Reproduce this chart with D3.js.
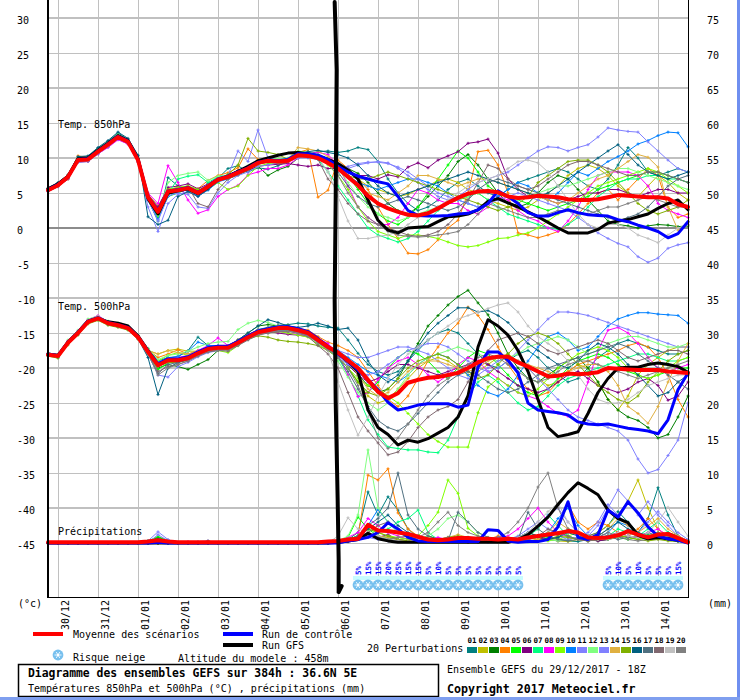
<!DOCTYPE html>
<html><head><meta charset="utf-8">
<script src="https://cdn.jsdelivr.net/npm/d3@7"></script>
<style>
body{margin:0;background:#fff;}
svg{display:block;}
</style></head><body>
<svg id="c" width="740" height="700"></svg>
<script>
// ---------- DATA ----------
const hours = d3.range(0, 385, 6); // 65 steps, 29/12/2017 18Z + h
const dateLabels = ["30/12","31/12","01/01","02/01","03/01","04/01","05/01","06/01","07/01","08/01","09/01","10/01","11/01","12/01","13/01","14/01"];
const dateHours = [6,30,54,78,102,126,150,174,198,222,246,270,294,318,342,366];
const leftTicks = [30,25,20,15,10,5,0,-5,-10,-15,-20,-25,-30,-35,-40,-45];
const memberNames = ["01","02","03","04","05","06","07","08","09","10","11","12","13","14","15","16","17","18","19","20"];
const memberColors = ["#008080","#c0c000","#008000","#ff8000","#00ff00","#800080","#00ff80","#ff00ff","#80ff00","#0080ff","#8080ff","#80ff80","#8080ff","#e0b040","#80b000","#006080","#507080","#806870","#c0c0c0","#808080"];

const t850Mean = [5.4,6.1,7.3,9.7,9.8,10.9,11.9,13.0,12.3,9.7,4.4,2.3,5.2,5.4,5.7,5.0,5.9,6.9,7.3,7.9,8.5,9.3,9.6,9.5,9.6,10.4,10.3,10.0,9.3,8.5,7.3,6.1,4.6,3.5,2.8,2.3,1.9,1.8,2.1,2.8,3.6,4.3,4.9,5.2,5.3,5.1,4.5,4.3,4.4,4.6,4.5,4.4,4.1,4.0,4.0,4.1,4.4,4.7,4.6,4.5,4.4,4.4,4.2,3.4,3.0];
const t850Control = [5.5,6.2,7.3,9.8,9.9,11.0,12.0,13.1,12.4,9.8,4.5,2.5,5.3,5.5,5.8,5.1,6.0,7.0,7.4,8.0,8.6,9.4,9.7,9.6,9.8,10.6,10.6,10.4,9.8,8.8,8.0,7.4,7.0,6.6,6.3,4.5,2.5,1.8,1.7,1.7,1.8,2.0,2.1,2.6,3.5,5.3,4.5,3.5,2.2,1.7,1.7,2.2,2.6,2.2,1.9,1.8,1.7,1.2,0.9,0.4,0.0,-0.5,-1.4,-0.8,0.9];
const t850Gfs = [5.6,6.3,7.4,9.9,10.0,11.1,12.1,13.2,12.5,9.9,4.2,2.0,5.0,5.3,5.6,4.9,5.8,6.9,7.4,8.1,8.8,9.6,10.0,10.4,10.7,10.8,10.6,10.3,9.8,9.2,8.3,7.0,4.0,1.1,-0.3,-0.7,0.0,0.1,0.2,0.9,1.6,1.7,2.0,2.6,3.8,4.2,3.6,3.0,2.3,1.6,0.8,0.0,-0.7,-0.7,-0.7,-0.2,0.7,1.0,1.2,1.6,2.0,2.8,3.5,4.0,2.6];
const t850Members = [
[5.6,6.3,7.5,10.1,10.2,11.4,12.3,13.6,12.6,10.3,4.0,1.0,7.2,6.0,5.5,4.6,6.3,7.1,8.5,8.9,8.0,8.6,8.4,8.9,9.5,10.2,10.6,10.9,11.0,10.8,11.0,11.5,11.2,9.5,7.0,5.0,3.5,2.5,3.0,4.0,5.5,6.5,7.0,6.0,5.0,4.5,5.5,6.5,7.0,7.5,8.0,8.5,8.0,7.0,6.0,5.5,7.0,9.0,11.5,10.0,8.0,7.5,8.0,8.5,8.0],
[5.3,6.0,7.0,9.5,9.6,10.7,11.7,12.8,12.1,9.5,4.8,3.2,5.4,5.8,6.0,5.4,6.1,7.0,7.4,8.2,8.8,9.6,9.9,9.8,9.9,10.8,10.6,10.3,9.8,9.0,8.2,7.0,6.0,5.5,5.0,4.5,4.8,5.5,6.0,6.8,7.0,6.5,5.5,5.0,4.0,3.5,3.0,2.5,3.0,4.0,5.0,6.0,7.5,8.5,9.0,8.5,7.5,6.0,5.0,4.5,6.0,7.5,6.5,5.0,4.0],
[5.5,6.2,7.2,9.8,9.9,11.0,12.1,13.2,12.4,9.9,4.2,1.8,4.8,5.2,5.5,4.9,5.8,6.8,7.0,7.6,8.2,8.8,7.5,8.3,8.8,10.0,10.5,10.2,9.6,9.0,8.5,7.8,6.5,5.0,3.5,2.5,2.0,3.0,4.5,6.0,7.5,9.5,10.5,9.0,7.0,5.0,3.5,3.0,3.5,5.0,6.5,7.5,7.0,5.5,4.0,2.5,1.0,0.5,0.3,0.0,0.3,0.5,0.4,0.2,0.3],
[5.6,6.4,7.6,10.3,10.1,11.2,12.0,13.1,12.2,9.6,4.6,2.8,5.6,5.7,5.9,5.6,6.8,7.5,7.9,8.6,11.3,9.8,9.4,9.2,9.3,10.8,11.2,4.4,5.4,9.7,8.5,7.0,5.5,3.0,0.5,-1.5,-3.6,-3.7,-3.1,-1.7,0.0,1.1,5.0,10.9,11.1,9.0,5.0,-0.7,-1.0,-1.4,-1.0,-0.5,0.5,2.0,3.5,5.0,5.5,4.0,5.5,7.0,8.5,7.5,3.0,1.5,2.0],
[5.4,6.2,7.4,9.9,10.0,11.3,12.2,13.3,12.5,9.9,4.0,1.5,4.5,5.0,5.6,5.2,6.0,7.0,7.2,8.0,8.8,9.6,10.0,9.8,9.9,10.9,10.8,10.5,9.9,9.0,7.5,5.5,3.5,2.0,1.0,0.5,1.5,3.0,5.0,7.0,9.0,11.0,10.0,8.0,6.0,5.0,4.5,4.0,3.5,3.0,2.5,3.0,3.5,4.0,4.5,5.5,6.0,6.5,7.0,7.5,8.0,8.0,7.5,7.0,6.5],
[5.2,5.9,7.0,9.4,9.5,10.6,11.6,12.7,12.0,9.4,4.7,3.0,5.8,6.0,6.3,5.6,6.3,7.2,7.6,8.2,8.3,8.8,9.0,9.1,9.2,9.0,8.8,9.0,8.5,8.5,8.0,7.5,7.5,7.0,7.6,7.3,8.7,9.3,8.6,9.7,10.3,10.9,12.1,12.3,12.7,10.7,7.0,5.5,4.5,4.5,4.0,3.5,4.0,4.5,5.0,5.0,5.5,5.5,5.0,4.5,5.0,5.5,5.5,5.0,5.0],
[5.5,6.1,7.3,9.6,9.7,10.8,11.8,12.9,12.2,9.8,4.3,2.0,5.0,7.0,7.4,7.6,6.5,7.3,7.6,8.0,8.4,9.2,9.5,9.4,9.6,10.5,10.2,9.8,8.0,6.0,4.0,2.0,0.0,-1.0,-1.5,-2.0,-1.5,-0.5,1.0,2.5,3.5,4.0,4.5,5.0,4.0,3.0,2.0,1.5,1.0,0.5,0.0,-0.2,0.5,1.5,3.0,4.5,5.5,6.5,7.0,7.0,7.5,7.5,7.0,7.0,6.5],
[5.3,6.0,7.1,9.5,9.6,10.6,11.5,12.6,12.0,9.5,5.0,3.5,8.9,6.5,4.0,2.1,2.6,4.5,5.5,6.1,7.6,8.0,8.5,8.5,9.0,10.0,10.6,10.8,10.5,9.0,6.0,3.0,1.5,0.5,0.5,1.5,3.5,5.5,5.0,4.0,3.5,3.5,2.5,2.0,3.0,4.5,4.0,2.5,1.5,1.0,0.0,-0.5,1.0,3.0,5.5,7.5,8.0,8.0,8.0,7.5,6.0,3.5,2.5,2.0,1.5],
[5.4,6.0,7.2,9.6,9.8,10.9,11.9,13.0,12.3,9.8,4.5,2.5,5.5,5.8,6.0,5.5,5.5,6.5,5.5,6.0,7.5,8.8,9.2,9.3,9.5,10.3,10.5,10.0,9.0,7.5,5.5,3.0,1.0,-0.5,-1.0,-1.5,-1.0,-1.0,-1.2,-1.5,-2.0,-2.5,-2.7,-2.5,-2.0,-1.5,-1.4,-1.0,-0.7,0.0,1.0,2.0,3.0,4.0,5.0,6.0,6.5,7.0,7.5,8.0,8.5,8.0,7.0,6.0,5.0],
[5.5,6.2,7.4,9.8,9.9,11.0,12.0,13.1,12.4,9.8,4.2,1.2,4.5,5.2,5.4,4.6,5.4,6.6,7.0,7.8,8.4,9.2,9.5,9.5,9.7,10.4,10.5,10.2,9.6,8.5,7.5,6.5,6.0,5.5,6.0,6.5,7.0,7.0,6.5,6.0,5.0,4.0,3.5,3.0,3.5,4.5,5.5,6.5,6.0,5.0,4.0,5.0,6.5,8.0,7.5,8.5,9.5,10.2,11.0,12.0,12.5,13.2,13.7,13.6,11.6],
[5.3,6.0,7.1,9.4,9.5,10.6,11.6,12.7,12.1,9.5,3.0,-0.5,3.5,4.8,5.2,4.5,5.5,6.8,7.5,11.0,9.5,14.0,10.0,9.8,9.8,10.5,10.4,10.0,9.5,9.0,8.5,9.0,9.3,9.5,9.3,8.5,7.5,6.5,5.5,4.5,4.0,4.5,5.5,6.5,7.0,7.5,8.0,9.0,10.0,11.0,11.6,11.5,11.0,11.5,11.9,13.0,14.3,14.0,13.8,13.7,12.3,11.0,9.7,8.5,8.0],
[5.6,6.3,7.5,10.0,10.1,11.3,12.3,13.4,12.6,10.0,4.3,1.8,6.5,7.5,7.8,8.0,6.8,7.4,7.5,8.0,8.4,9.0,9.8,9.9,10.0,11.0,10.8,10.4,9.8,8.5,6.5,4.5,3.0,2.0,1.5,1.0,1.5,2.0,2.5,3.0,3.5,4.0,4.5,5.0,5.5,5.0,4.5,4.0,4.5,5.0,5.5,6.0,6.0,6.5,7.0,7.5,8.0,8.5,8.5,8.0,7.5,7.0,6.5,6.0,5.5],
[5.4,6.1,7.2,9.6,9.7,10.8,11.8,12.9,12.2,9.6,4.0,1.0,4.6,5.0,4.8,3.0,2.8,5.0,6.5,7.5,8.0,8.8,9.0,9.3,9.5,10.0,10.0,9.8,9.2,8.5,8.8,9.2,9.4,9.4,9.2,8.7,8.0,7.0,6.0,5.0,4.5,4.0,3.5,3.0,3.5,4.0,4.5,5.0,4.5,4.0,3.5,3.0,2.5,1.5,0.5,-0.7,-1.5,-2.2,-2.7,-4.1,-4.9,-4.3,-2.9,-2.4,-2.1],
[5.5,6.2,7.3,9.7,9.9,11.0,12.0,13.1,12.3,9.8,4.6,2.6,5.3,5.6,5.8,5.2,6.1,7.0,7.5,8.1,8.6,9.5,9.8,9.7,9.8,11.5,11.3,11.0,10.2,9.0,7.5,6.0,5.0,4.5,4.0,5.0,6.0,7.5,7.5,7.0,6.5,6.0,6.5,7.0,7.0,6.5,6.0,5.5,5.0,4.5,4.0,3.5,4.0,5.0,6.0,7.0,7.5,8.5,9.5,10.5,10.1,8.7,3.0,-0.3,0.5],
[5.4,6.1,7.3,9.7,9.8,10.9,11.9,13.0,12.3,9.7,4.4,2.0,5.0,5.5,5.8,5.3,6.0,7.0,7.6,9.0,12.8,11.0,10.8,10.5,9.8,10.6,10.4,10.1,9.4,8.5,7.5,7.0,7.0,7.5,8.0,7.5,7.0,6.5,6.0,5.5,5.0,4.5,4.0,3.5,3.0,2.5,3.0,3.5,4.5,6.5,7.5,8.5,9.5,9.7,9.7,9.0,8.0,6.5,5.0,3.5,2.5,2.0,2.5,3.0,4.0],
[5.7,6.5,7.6,10.2,10.3,11.5,12.5,13.7,12.8,10.4,1.6,0.5,1.1,4.5,5.2,4.5,5.5,6.8,7.3,8.0,8.7,9.5,9.7,9.6,9.8,10.6,10.9,11.1,10.8,10.5,10.0,9.0,7.5,6.0,5.0,4.5,5.0,5.5,6.0,6.5,7.0,7.5,8.0,7.5,7.0,6.5,6.0,5.5,5.0,4.5,5.0,6.0,7.0,8.0,9.0,10.0,11.0,11.9,10.5,9.0,8.0,7.5,7.0,7.5,8.0],
[5.5,6.2,7.4,9.8,9.9,11.0,12.0,13.1,12.4,9.8,4.3,2.2,5.2,5.4,5.8,5.1,6.0,7.0,7.4,8.0,8.6,9.4,9.7,9.6,9.7,10.5,10.4,10.1,9.5,8.0,6.0,4.5,3.5,3.0,3.5,4.0,4.5,4.0,3.5,3.0,2.5,3.0,4.0,5.5,6.5,7.0,6.5,6.0,5.5,5.0,4.5,4.0,3.5,3.0,2.5,2.0,1.5,1.0,1.5,2.0,3.0,4.5,6.0,7.0,7.5],
[5.3,6.0,7.1,9.5,9.6,10.7,11.7,12.8,12.1,9.5,4.6,2.6,5.4,5.6,5.9,3.5,3.0,5.5,7.0,7.6,8.3,9.1,9.4,9.3,9.4,10.2,10.1,9.8,7.0,5.5,3.5,2.0,1.0,0.5,0.0,-0.5,-1.0,-1.2,-1.0,-0.5,0.5,2.0,4.0,6.5,9.0,8.5,7.0,6.0,5.5,6.0,7.0,8.0,9.0,9.5,9.5,9.0,8.5,8.0,7.5,7.5,8.0,8.0,7.5,7.0,6.5],
[5.4,6.1,7.2,9.6,9.7,10.8,11.8,12.9,12.2,9.6,4.5,2.4,5.3,5.5,5.8,5.1,6.0,7.0,7.4,8.0,8.6,9.4,9.7,9.6,9.7,10.5,10.4,10.1,8.0,4.5,1.0,-1.5,-1.5,-1.2,-1.0,-0.5,0.5,1.5,2.0,3.0,4.0,5.0,6.0,6.5,7.0,7.5,8.5,9.5,9.7,9.3,8.0,6.0,4.0,2.0,0.5,0.0,0.5,0.5,0.0,-1.0,-1.5,-2.1,-1.0,0.0,0.5],
[5.5,6.2,7.3,9.7,9.8,10.9,11.9,13.0,12.3,9.7,4.4,2.2,5.1,5.3,5.6,4.9,5.8,6.8,7.2,7.8,8.4,9.2,9.5,9.4,9.5,10.3,10.2,9.9,9.2,7.5,5.0,3.0,1.5,0.5,-0.5,-1.0,-1.2,-1.3,-1.2,-1.0,-0.8,-0.5,0.5,2.0,3.5,3.0,2.5,2.0,1.5,1.5,2.0,2.5,2.5,2.0,2.0,2.5,3.0,3.0,3.5,4.0,4.5,4.0,3.5,3.0,3.0]
];

const t500Mean = [-18.1,-18.3,-16.4,-15.0,-13.4,-12.9,-13.6,-13.9,-14.3,-15.6,-17.7,-19.6,-18.9,-18.9,-18.6,-17.9,-17.3,-17.1,-17.1,-16.4,-15.6,-14.9,-14.6,-14.3,-14.3,-14.6,-15.0,-16.0,-17.0,-17.8,-18.9,-20.0,-21.7,-23.4,-24.3,-23.6,-22.1,-21.7,-21.4,-21.3,-21.0,-20.7,-20.0,-19.2,-18.6,-18.4,-18.4,-19.2,-19.8,-20.5,-21.2,-21.1,-20.8,-20.9,-20.8,-20.6,-20.0,-20.1,-20.2,-20.3,-20.3,-20.3,-20.5,-20.6,-20.7];
const t500Control = [-18.0,-18.2,-16.3,-14.9,-13.3,-12.8,-13.5,-13.8,-14.2,-15.5,-17.6,-19.4,-18.7,-18.7,-18.4,-17.7,-17.1,-16.9,-16.9,-16.2,-15.4,-14.7,-14.4,-14.1,-14.1,-14.4,-14.8,-15.8,-16.9,-18.0,-19.0,-20.3,-21.7,-23.1,-24.9,-26.0,-25.7,-25.3,-25.1,-25.1,-25.1,-25.6,-25.3,-19.9,-17.7,-17.7,-18.9,-20.7,-25.0,-26.0,-26.2,-26.4,-26.7,-27.7,-28.0,-28.1,-28.0,-28.3,-28.6,-28.8,-29.0,-29.4,-27.4,-23.1,-20.7];
const t500Gfs = [-18.0,-18.2,-16.3,-14.9,-13.3,-12.9,-13.4,-13.6,-14.0,-15.4,-17.5,-19.5,-18.8,-18.8,-18.5,-17.8,-17.2,-17.0,-17.0,-16.3,-15.5,-14.8,-14.5,-14.2,-14.2,-14.5,-14.9,-15.9,-17.0,-17.9,-19.0,-20.5,-26.0,-28.5,-29.5,-31.0,-30.3,-30.6,-30.1,-29.3,-28.5,-27.0,-24.0,-17.0,-13.1,-14.0,-15.3,-17.5,-20.5,-24.5,-28.5,-29.8,-29.5,-29.1,-26.5,-23.5,-21.5,-20.0,-19.9,-19.9,-19.5,-19.3,-19.5,-19.8,-20.6];
const t500Members = [
[-18.0,-18.2,-16.2,-14.8,-13.2,-12.8,-13.5,-13.7,-14.1,-15.4,-17.2,-19.0,-18.5,-18.4,-17.5,-15.6,-16.8,-16.9,-16.9,-16.2,-15.3,-14.5,-14.2,-13.9,-13.8,-13.6,-13.7,-14.0,-14.2,-14.3,-16.0,-17.9,-19.5,-20.5,-21.0,-20.5,-19.0,-17.5,-16.0,-15.0,-14.5,-15.0,-16.5,-18.0,-19.5,-20.0,-19.0,-18.0,-17.5,-18.5,-20.0,-21.0,-22.0,-21.5,-20.0,-18.5,-17.5,-16.5,-16.0,-16.5,-17.0,-17.5,-18.0,-18.0,-17.5],
[-18.0,-18.2,-16.3,-14.9,-13.3,-12.9,-13.5,-13.8,-14.2,-15.5,-17.5,-18.0,-17.5,-17.3,-17.6,-17.6,-17.2,-17.0,-16.9,-16.2,-15.4,-14.8,-14.5,-14.3,-14.5,-14.9,-15.3,-16.3,-17.2,-18.5,-20.0,-22.0,-24.0,-25.0,-24.5,-23.0,-21.5,-20.0,-19.0,-18.5,-19.0,-20.0,-21.0,-20.5,-19.5,-18.5,-18.0,-19.0,-20.0,-21.5,-22.5,-22.0,-20.5,-19.5,-20.0,-22.0,-24.5,-26.0,-24.0,-21.0,-19.5,-18.5,-17.5,-17.0,-17.0],
[-18.1,-18.3,-16.3,-14.9,-13.3,-12.8,-13.5,-13.8,-14.2,-15.6,-17.8,-20.0,-19.5,-19.8,-20.2,-19.5,-18.8,-17.5,-16.8,-16.0,-15.0,-14.0,-13.8,-14.0,-14.0,-14.5,-14.8,-15.8,-16.9,-18.0,-19.5,-21.0,-22.5,-23.5,-23.0,-21.5,-19.0,-16.5,-14.0,-12.5,-11.0,-9.8,-8.9,-10.7,-12.4,-15.0,-18.0,-20.0,-21.5,-22.0,-21.0,-20.0,-19.0,-18.5,-20.0,-22.0,-24.5,-26.0,-27.0,-27.5,-28.5,-30.0,-29.5,-27.0,-24.0],
[-17.9,-18.1,-16.2,-14.8,-13.2,-12.7,-13.4,-13.7,-14.1,-15.4,-17.4,-18.5,-18.0,-17.4,-18.0,-17.5,-17.0,-16.9,-16.8,-16.0,-15.2,-14.6,-14.3,-14.0,-14.0,-14.3,-14.6,-15.5,-16.3,-16.8,-17.5,-18.5,-20.5,-22.5,-24.5,-25.5,-24.0,-21.5,-19.0,-17.0,-15.0,-13.6,-11.3,-12.5,-14.5,-17.0,-19.5,-21.5,-23.0,-24.0,-23.5,-22.0,-20.5,-19.5,-19.0,-18.5,-18.0,-17.5,-16.8,-16.4,-17.0,-18.5,-21.0,-24.5,-27.0],
[-18.2,-18.4,-16.4,-15.0,-13.4,-12.9,-13.6,-13.9,-14.3,-15.6,-17.8,-20.2,-19.3,-19.0,-18.7,-18.0,-17.4,-17.2,-17.2,-16.5,-15.7,-15.0,-14.7,-14.4,-14.4,-14.8,-15.2,-16.2,-17.3,-18.5,-20.0,-22.0,-23.5,-22.0,-20.0,-18.5,-17.5,-18.0,-19.0,-20.5,-21.5,-20.0,-18.5,-17.5,-18.0,-19.5,-21.0,-22.5,-23.5,-24.0,-23.0,-21.5,-20.0,-19.0,-18.5,-18.0,-18.5,-19.5,-20.5,-21.0,-21.5,-21.0,-20.5,-20.0,-20.0],
[-18.0,-18.2,-16.3,-14.9,-13.3,-12.8,-13.5,-13.8,-14.2,-15.5,-17.6,-19.4,-18.8,-18.8,-18.5,-17.8,-17.2,-17.0,-17.0,-16.3,-15.5,-14.8,-14.8,-15.0,-15.2,-15.3,-15.5,-16.2,-17.0,-18.0,-19.5,-21.0,-22.0,-21.5,-20.5,-19.5,-19.5,-20.0,-20.5,-21.0,-20.5,-20.0,-19.5,-19.0,-19.5,-20.5,-21.5,-22.5,-23.0,-23.5,-23.0,-22.0,-21.0,-20.5,-21.5,-22.5,-23.0,-23.5,-23.0,-22.0,-21.5,-22.5,-24.6,-24.0,-22.0],
[-18.1,-18.3,-16.4,-15.0,-13.4,-12.9,-13.6,-13.9,-14.3,-15.6,-17.7,-19.6,-18.9,-18.9,-18.6,-17.9,-17.3,-17.1,-17.1,-16.4,-15.6,-14.9,-14.6,-14.3,-14.3,-14.6,-15.0,-16.0,-17.5,-18.5,-21.0,-24.0,-27.4,-29.5,-31.3,-31.5,-31.7,-31.7,-32.0,-32.1,-30.3,-27.0,-24.0,-22.0,-21.0,-22.0,-23.5,-25.0,-26.0,-25.5,-24.0,-22.5,-21.5,-21.0,-20.5,-20.0,-19.5,-19.0,-18.5,-18.0,-18.0,-18.5,-19.0,-19.0,-18.5],
[-17.9,-18.1,-16.1,-14.7,-13.1,-12.5,-13.4,-13.8,-14.2,-15.5,-17.6,-19.5,-18.7,-18.5,-18.2,-17.5,-16.8,-15.7,-16.8,-16.3,-15.5,-14.9,-14.8,-14.8,-15.0,-15.2,-15.4,-15.8,-16.5,-18.0,-21.0,-24.1,-23.5,-21.7,-20.0,-19.0,-18.5,-19.5,-21.0,-22.0,-21.0,-19.5,-18.5,-19.0,-20.5,-21.5,-22.5,-23.5,-24.0,-24.5,-25.5,-26.5,-26.9,-26.0,-22.0,-17.5,-14.6,-14.2,-15.0,-16.5,-18.5,-20.0,-20.5,-20.0,-19.5],
[-18.2,-18.4,-16.5,-15.1,-13.5,-13.0,-13.7,-14.0,-14.4,-15.7,-17.9,-19.0,-18.2,-17.8,-18.2,-17.8,-17.6,-17.5,-17.8,-16.8,-15.8,-15.2,-15.0,-14.8,-15.0,-15.3,-15.6,-16.6,-17.5,-18.5,-20.0,-21.5,-22.5,-23.0,-24.0,-25.0,-26.5,-28.0,-29.5,-30.5,-31.3,-31.3,-31.3,-26.4,-22.7,-21.5,-22.5,-23.5,-24.0,-23.0,-21.5,-20.0,-19.0,-18.0,-17.5,-17.0,-17.5,-18.5,-20.0,-21.0,-21.5,-21.0,-20.0,-19.0,-18.5],
[-18.0,-18.2,-16.3,-14.9,-13.3,-12.8,-13.5,-13.8,-14.2,-15.5,-17.6,-19.2,-18.6,-18.3,-17.6,-16.3,-16.8,-16.8,-16.9,-16.2,-15.4,-14.7,-14.4,-14.2,-14.2,-14.5,-14.9,-15.9,-16.9,-17.5,-18.5,-19.5,-20.5,-21.0,-21.5,-22.0,-21.0,-19.5,-18.5,-18.0,-18.5,-19.5,-21.0,-22.5,-23.5,-24.0,-23.0,-21.0,-19.0,-17.0,-15.5,-15.0,-16.0,-17.5,-17.0,-15.5,-14.0,-13.0,-12.5,-12.1,-12.1,-12.3,-12.4,-12.5,-13.6],
[-18.2,-18.5,-16.6,-15.2,-13.6,-13.1,-13.8,-14.1,-14.5,-15.8,-18.0,-21.0,-21.3,-19.8,-19.2,-18.4,-17.8,-17.5,-17.4,-16.7,-15.9,-15.2,-15.0,-14.7,-14.7,-15.0,-15.4,-16.4,-17.4,-18.5,-19.5,-20.5,-21.0,-20.5,-19.5,-18.5,-17.5,-17.0,-16.5,-16.5,-17.0,-18.0,-19.0,-20.0,-20.5,-20.0,-19.0,-17.5,-16.0,-14.5,-13.0,-12.0,-12.0,-12.2,-12.5,-13.0,-13.5,-14.0,-14.5,-15.0,-15.5,-16.0,-16.5,-17.0,-17.0],
[-17.9,-18.0,-16.0,-14.6,-13.0,-12.6,-13.3,-13.6,-14.0,-15.3,-17.2,-18.8,-18.2,-18.0,-17.6,-17.0,-16.5,-16.3,-16.2,-14.5,-13.6,-13.2,-13.5,-14.0,-14.2,-14.6,-15.0,-16.0,-17.0,-19.0,-21.3,-23.5,-25.0,-26.0,-25.0,-23.0,-21.0,-19.5,-18.5,-18.0,-17.5,-17.0,-17.5,-18.0,-18.5,-19.0,-18.5,-18.0,-17.0,-16.5,-16.0,-15.5,-16.0,-17.0,-18.0,-17.5,-16.5,-16.0,-15.5,-15.5,-16.0,-16.5,-17.0,-17.0,-16.5],
[-18.1,-18.3,-16.4,-15.0,-13.4,-12.9,-13.6,-13.9,-14.3,-15.6,-17.8,-19.8,-19.2,-19.0,-18.7,-18.0,-17.4,-17.2,-17.2,-16.5,-15.7,-15.0,-14.7,-14.4,-14.4,-14.7,-15.1,-16.1,-17.1,-17.5,-18.0,-18.5,-18.5,-18.0,-17.5,-17.0,-17.0,-17.5,-18.0,-19.0,-20.0,-21.0,-21.5,-21.0,-20.0,-19.0,-18.5,-19.0,-20.0,-21.5,-23.0,-24.5,-26.0,-27.0,-27.5,-28.0,-28.5,-29.0,-30.3,-33.0,-35.0,-34.5,-32.5,-30.3,-25.0],
[-18.0,-18.3,-16.4,-15.0,-13.4,-12.9,-13.5,-13.8,-14.2,-15.5,-17.5,-18.0,-17.5,-17.8,-18.0,-17.6,-17.2,-17.0,-17.0,-16.4,-15.6,-15.0,-14.8,-14.5,-14.5,-14.8,-15.2,-16.2,-17.2,-18.0,-19.0,-21.0,-23.0,-24.0,-23.5,-22.0,-20.5,-19.5,-19.0,-19.0,-19.5,-20.0,-20.5,-20.0,-19.0,-18.5,-18.5,-19.0,-19.5,-20.0,-20.5,-21.0,-20.5,-20.0,-19.5,-19.5,-20.5,-22.5,-25.5,-26.5,-27.9,-25.5,-22.0,-19.0,-16.5],
[-18.3,-18.6,-16.7,-15.3,-13.7,-13.2,-13.9,-14.2,-14.6,-15.9,-18.0,-19.8,-19.2,-19.2,-18.9,-18.2,-17.6,-17.4,-17.4,-16.7,-15.9,-15.4,-15.6,-16.0,-16.2,-16.3,-16.5,-16.8,-17.5,-18.5,-20.0,-22.0,-23.5,-24.0,-23.0,-21.5,-20.0,-19.0,-18.5,-18.0,-18.5,-19.5,-20.5,-21.5,-21.0,-19.5,-18.0,-16.5,-15.5,-15.0,-15.5,-16.5,-18.0,-19.5,-21.0,-22.5,-23.5,-24.5,-25.0,-24.0,-22.0,-20.5,-19.0,-18.0,-17.5],
[-18.2,-18.4,-16.5,-15.1,-13.5,-13.0,-13.7,-14.0,-14.4,-15.8,-18.5,-23.8,-20.0,-19.2,-18.8,-18.0,-17.4,-17.2,-17.0,-16.0,-15.0,-14.0,-13.1,-13.5,-14.0,-14.2,-14.0,-13.6,-14.0,-14.5,-14.3,-16.0,-19.0,-21.0,-22.0,-21.0,-19.0,-17.0,-15.0,-13.6,-12.5,-11.4,-11.4,-12.0,-11.8,-12.5,-13.5,-15.0,-16.5,-17.5,-18.5,-19.5,-20.0,-19.0,-17.5,-16.5,-17.0,-18.0,-19.5,-21.0,-22.5,-24.0,-23.5,-22.0,-21.0],
[-18.1,-18.3,-16.4,-15.0,-13.4,-12.9,-13.6,-13.9,-14.3,-15.7,-18.0,-20.8,-19.5,-19.2,-18.8,-18.1,-17.5,-17.3,-17.3,-16.6,-15.8,-15.1,-14.8,-14.6,-14.6,-14.9,-15.3,-16.3,-17.3,-18.5,-20.5,-23.0,-25.5,-27.5,-28.5,-29.0,-28.0,-26.5,-25.0,-23.5,-22.0,-21.0,-20.5,-21.0,-22.0,-23.0,-23.5,-23.0,-22.0,-21.0,-20.0,-19.5,-19.0,-18.5,-18.0,-17.5,-17.0,-16.5,-17.0,-18.0,-19.0,-20.0,-21.0,-22.0,-23.0],
[-18.2,-18.4,-16.5,-15.1,-13.5,-13.0,-13.7,-14.0,-14.4,-15.7,-17.9,-20.5,-19.8,-19.5,-19.0,-18.3,-17.7,-17.5,-17.6,-16.8,-16.0,-15.3,-15.0,-14.8,-14.8,-15.0,-15.5,-16.8,-18.0,-20.0,-23.5,-27.0,-29.0,-30.7,-32.4,-32.0,-30.5,-28.5,-27.0,-26.0,-25.5,-24.5,-22.0,-19.5,-17.5,-16.0,-15.5,-15.0,-15.5,-16.5,-17.5,-18.0,-17.5,-17.0,-16.5,-16.0,-16.5,-17.5,-18.5,-19.0,-18.5,-18.0,-17.5,-17.5,-18.0],
[-18.0,-18.2,-16.3,-14.9,-13.3,-12.8,-13.5,-13.8,-14.2,-15.5,-17.6,-19.3,-18.7,-18.6,-18.3,-17.7,-17.1,-16.9,-16.9,-16.2,-15.4,-14.7,-14.4,-14.2,-14.2,-14.5,-14.9,-16.0,-17.5,-22.0,-26.0,-29.6,-27.0,-24.0,-21.5,-19.5,-18.0,-17.0,-16.0,-15.0,-14.0,-13.0,-12.5,-12.0,-11.5,-11.0,-10.7,-12.0,-14.0,-15.5,-16.5,-17.5,-19.0,-21.0,-23.0,-24.5,-25.0,-25.0,-24.5,-23.5,-22.5,-22.0,-21.5,-21.0,-21.0],
[-18.1,-18.4,-16.5,-15.1,-13.5,-13.0,-13.7,-14.0,-14.4,-15.8,-18.0,-21.0,-20.0,-19.5,-19.0,-18.2,-17.6,-17.4,-17.4,-16.7,-15.9,-15.2,-14.9,-14.7,-14.7,-15.0,-15.4,-16.4,-17.4,-18.5,-20.0,-22.5,-26.0,-30.0,-31.5,-30.0,-28.0,-26.0,-24.0,-22.5,-21.5,-20.5,-19.5,-18.5,-18.0,-18.5,-19.5,-20.5,-21.5,-22.0,-21.5,-20.5,-19.5,-19.0,-19.0,-19.5,-20.0,-20.5,-21.0,-21.5,-21.0,-20.5,-20.0,-19.5,-19.0]
];

const precipMean = [0.1,0.1,0.1,0.1,0.1,0.1,0.1,0.1,0.1,0.1,0.2,0.4,0.2,0.1,0.1,0.1,0.1,0.1,0.1,0.1,0.1,0.1,0.1,0.1,0.1,0.1,0.1,0.1,0.2,0.3,0.5,0.6,2.6,1.8,1.7,1.5,1.3,0.9,0.5,0.4,0.5,0.7,0.7,0.6,0.6,0.5,0.6,0.5,0.8,1.0,1.2,1.4,1.7,1.5,0.8,0.7,0.8,1.1,1.7,1.2,0.8,1.2,1.3,0.7,0.1];
const precipControl = [0,0,0,0,0,0,0,0,0,0,0,0.1,0,0,0,0,0,0,0,0,0,0,0,0,0,0,0,0,0,0,0.3,0.5,0.8,1.5,2.9,2.0,0.8,0.3,0.2,0.2,0.2,0.2,0.2,0.2,1.9,1.8,0.3,0.1,0.2,0.2,0.5,2.3,5.9,0.8,0.5,1.2,4.7,3.7,5.9,4.3,2.3,1.0,0.6,0.4,0];
const precipGfs = [0,0,0,0,0,0,0,0,0,0,0,0,0,0,0,0,0,0,0,0,0,0,0,0,0,0,0,0,0,0.1,0.3,0.5,1.4,0.6,0.3,0.1,0.1,0.1,0.1,0.1,0.1,0.1,0.1,0.1,0.1,0.1,0.1,0.5,1.2,2.4,3.7,5.5,7.2,8.6,7.8,6.9,4.7,3.5,2.9,1.1,0.6,0.8,0.6,0.4,0.2];
const precipMembers = [
[0,0,0,0,0,0,0,0,0,0,0.3,0.6,0.2,0,0,0,0,0,0,0,0,0,0,0,0,0,0,0,0.1,0.2,0.5,1.5,7.3,4.0,6.6,4.7,2.0,0.8,0.3,0.2,0.5,0.3,0.2,0.1,0.2,0.5,0.8,0.4,0.2,0.5,1.0,0.6,0.3,0.2,0.5,1.5,2.5,4.5,3.0,1.5,3.5,7.9,4.0,1.0,0.2],
[0,0,0,0,0,0,0,0,0,0,0,0.4,0,0,0,0,0,0,0,0,0,0,0,0,0,0,0,0,0,0,0.2,0.5,1.0,0.8,0.5,0.3,0.2,0.1,0.2,0.3,0.5,0.8,0.5,0.3,0.4,0.6,0.3,0.2,0.5,1.0,0.5,0.3,0.2,0.5,1.0,1.5,2.5,4.0,6.0,9.0,5.0,2.0,0.8,0.3,0.1],
[0,0,0,0,0,0,0,0,0,0,0.2,0.8,0.3,0,0,0,0,0,0,0,0,0,0,0,0,0,0,0,0,0.1,0.3,0.6,1.2,1.0,0.8,0.5,0.3,0.5,1.0,0.6,0.3,0.2,0.3,0.5,0.3,0.2,0.5,0.8,1.5,1.0,0.5,0.8,2.0,1.5,0.5,0.3,0.5,1.0,1.5,1.0,0.5,1.0,1.5,1.0,0.3],
[0,0,0,0,0,0,0,0,0,0,0,0,0,0,0,0,0,0,0,0,0,0,0,0,0,0,0,0.1,0.2,0.2,0.5,1.0,9.7,9.0,10.6,4.3,2.0,1.0,0.5,0.3,0.5,0.8,0.5,0.3,0.5,1.0,0.8,0.5,0.3,0.5,1.0,2.5,5.5,3.0,2.0,3.0,2.5,1.5,1.0,2.0,3.5,2.0,1.0,0.5,0.2],
[0,0,0,0,0,0,0,0,0,0,0.3,0.9,0.4,0,0,0,0,0,0,0,0,0,0,0,0,0,0,0,0,0.3,0.8,3.7,2.0,1.0,0.5,0.8,0.6,0.3,0.5,0.3,0.2,0.3,0.5,0.3,0.2,0.4,0.6,0.3,0.2,0.3,0.8,1.5,1.0,0.5,0.3,0.6,1.0,0.8,0.5,0.8,1.2,0.8,0.5,0.3,0.1],
[0,0,0,0,0,0,0,0,0,0,0,0,0,0,0,0,0,0,0,0,0,0,0,0,0,0,0,0,0,0.1,0.2,0.5,1.0,0.8,1.2,0.5,0.3,0.2,0.3,0.5,0.3,0.2,0.1,0.2,0.3,0.2,0.1,0.2,0.5,0.8,0.5,0.3,0.5,0.8,0.5,0.3,0.5,0.8,1.0,0.8,0.5,0.6,0.8,0.5,0.2],
[0,0,0,0,0,0,0,0,0,0,0,0.5,0,0,0,0,0,0,0,0,0,0,0,0,0,0,0,0,0,0.2,0.5,1.0,2.5,1.5,2.0,3.0,3.5,4.7,1.5,0.5,0.3,0.5,0.8,0.5,0.3,0.2,0.5,0.8,1.0,2.0,4.0,2.5,1.0,0.5,0.3,0.5,1.0,2.0,1.5,1.0,2.0,3.0,1.5,0.5,0.1],
[0,0,0,0,0,0,0,0,0,0,0,0.2,0,0,0.2,0,0,0,0,0,0,0,0,0,0,0,0,0,0,0.3,0.8,1.5,3.5,2.5,1.5,1.0,0.5,0.3,0.5,0.8,0.5,0.3,0.2,0.3,0.5,0.8,1.0,2.0,3.5,5.0,3.0,1.5,0.8,0.5,0.3,0.5,1.0,1.5,1.0,0.8,1.5,2.0,1.0,0.5,0.2],
[0,0,0,0,0,0,0,0,0,0,0,0,0,0,0,0,0,0,0,0,0,0,0,0,0,0,0,0,0,0.2,0.5,1.0,2.0,1.5,1.0,0.8,0.5,1.0,2.5,4.4,9.0,7.1,2.1,1.0,0.5,0.3,0.2,0.5,0.8,0.5,0.3,0.5,1.0,1.5,1.0,0.5,0.8,1.2,0.8,0.5,1.0,1.5,1.0,0.5,0.2],
[0,0,0,0,0,0,0,0,0,0,0,0.4,0,0,0,0,0,0,0,0,0,0,0,0,0,0,0,0,0,0.2,0.5,1.0,2.5,4.8,3.0,1.5,0.8,0.5,0.3,0.2,0.3,0.5,0.3,0.2,0.5,0.8,0.5,0.3,0.5,1.0,1.5,3.5,5.0,2.5,1.0,0.8,1.5,3.0,2.5,1.5,1.0,0.8,0.5,0.3,0.1],
[0,0,0,0,0,0,0,0,0,0,0.3,1.6,0.5,0,0,0.2,0.3,0,0,0,0,0,0,0,0,0,0,0,0,0.1,0.3,0.5,1.0,0.8,0.5,0.3,0.2,0.3,0.5,0.3,0.2,0.3,0.5,0.3,0.2,0.3,0.5,0.8,1.5,2.5,4.0,5.0,3.0,1.5,1.0,2.5,5.0,7.6,6.0,4.0,5.9,4.0,2.5,1.0,0.3],
[0,0,0,0,0,0,0,0,0,0,0,0.3,0,0,0,0,0,0,0,0,0,0,0,0,0,0,0,0,0,0.3,1.0,4.0,13.3,5.0,3.0,1.5,0.8,0.5,1.0,2.0,3.5,4.0,3.0,1.5,0.8,0.5,0.3,0.5,0.8,1.0,0.5,0.3,0.5,0.8,1.0,0.8,0.5,0.8,1.5,1.0,0.5,0.8,1.0,0.5,0.2],
[0,0,0,0,0,0,0,0,0,0,0,1.2,0.3,0,0,0,0,0,0,0,0,0,0,0,0,0,0,0,0,0.1,0.2,0.5,0.8,0.5,0.3,0.2,0.3,0.5,0.3,0.2,0.1,0.2,0.3,0.2,0.1,0.3,0.5,1.0,2.0,3.0,2.0,1.0,0.5,0.8,1.5,3.0,5.5,4.0,2.5,1.5,3.0,4.5,3.0,1.5,0.5],
[0,0,0,0,0,0,0,0,0,0,0,0,0,0,0,0,0,0,0,0,0,0,0,0,0,0,0,0,0,0.1,0.3,0.8,1.5,1.0,0.8,0.5,0.3,0.5,0.8,0.5,0.8,1.2,0.8,0.5,0.3,0.5,0.8,0.5,0.3,0.5,1.5,3.0,2.0,1.0,0.5,1.0,2.0,3.5,2.5,1.5,2.5,3.5,2.0,1.0,0.3],
[0,0,0,0,0,0,0,0,0,0,0,0.2,0,0,0,0,0,0,0,0,0,0,0,0,0,0,0,0,0,0.2,0.5,1.0,2.0,1.5,1.0,0.5,0.3,0.2,0.3,0.5,0.8,1.0,0.8,0.5,0.3,0.2,0.3,0.5,0.3,0.2,0.5,1.0,0.8,0.5,0.3,0.5,0.8,1.0,0.8,0.5,0.3,0.5,0.3,0.2,0.1],
[0,0,0,0,0,0,0,0,0,0,0,0.6,0,0,0,0,0,0,0,0,0,0,0,0,0,0,0,0,0,0.1,0.3,0.8,2.0,3.0,4.0,2.5,1.5,1.0,0.5,0.3,0.5,0.8,0.5,0.3,0.2,0.3,0.5,0.8,1.5,1.0,0.5,0.8,1.5,1.0,0.5,1.0,2.0,3.0,2.0,1.5,1.0,0.8,0.5,0.3,0.1],
[0,0,0,0,0,0,0,0,0,0,0,0,0,0,0,0,0,0,0,0,0,0,0,0,0,0,0,0,0,0.2,0.5,1.0,2.5,3.5,5.0,10.0,4.0,2.0,1.0,0.5,0.3,4.4,3.0,1.5,0.8,0.5,0.3,0.5,4.4,2.0,1.0,0.5,0.3,0.5,1.0,1.5,1.0,0.5,0.8,1.0,1.5,1.0,0.5,0.3,0.1],
[0,0,0,0,0,0,0,0,0,0,0,0,0,0,0,0,0.3,0,0,0,0,0,0,0,0,0,0,0,0,0.1,0.3,0.8,1.5,2.5,3.0,2.0,1.0,0.5,0.3,0.5,0.8,0.5,0.3,0.2,0.3,0.5,0.3,0.2,0.5,1.0,2.0,1.5,1.0,0.5,0.3,0.5,1.0,1.5,1.0,0.8,1.0,1.5,1.0,0.5,0.2],
[0,0,0,0,0,0,0,0,0,0,0,0.2,0,0,0,0,0,0,0,0,0,0,0,0,0,0,0,0,0,1.0,3.6,2.0,1.5,1.0,0.5,0.3,0.2,0.5,0.3,0.2,0.5,0.8,0.5,0.3,0.2,0.3,0.5,0.8,1.5,3.0,4.5,5.7,3.0,1.5,1.0,0.5,0.8,1.5,1.0,0.8,1.5,3.0,5.1,3.0,1.0],
[0,0,0,0,0,0,0,0,0,0,0,0,0,0,0,0,0,0,0,0,0,0,0,0,0,0,0,0,0,0.1,0.2,0.5,1.0,0.8,0.5,0.8,1.0,0.8,1.5,3.0,4.4,2.5,1.5,1.0,0.5,0.8,1.5,3.0,5.0,8.0,10.0,5.0,2.0,1.0,0.5,0.8,1.5,1.0,0.5,0.3,0.5,0.8,0.5,0.3,0.1]
];

// snow risk (%) per 6h step, null = none
const snowRisk = [null,null,null,null,null,null,null,null,null,null,null,null,null,null,null,null,null,null,null,null,null,null,null,null,null,null,null,null,null,null,null,
5,15,15,20,25,15,15,5,10,5,5,5,5,5,5,5,5,
null,null,null,null,null,null,null,null,
5,10,5,10,5,5,5,15,null];
const nowHour = 172;

// ---------- DRAW ----------
const MONO = "'DejaVu Sans Mono', monospace";
const svg = d3.select("#c");
const x = d3.scaleLinear().domain([0, 384]).range([48, 688]);
const y = d3.scaleLinear().domain([-45, 30]).range([543, 18]);
const yP = d3.scaleLinear().domain([0, 75]).range([543, 18]);
const X0 = 48, X1 = 688, YB = 597;

svg.append("rect").attr("width",740).attr("height",700).attr("fill","#fff");

// grid
const grid = svg.append("g").attr("shape-rendering","crispEdges");
grid.selectAll("line.v").data(dateHours).join("line")
  .attr("x1",d=>Math.round(x(d))+0.5).attr("x2",d=>Math.round(x(d))+0.5)
  .attr("y1",0).attr("y2",YB).attr("stroke","#c0c0c0").attr("stroke-width",1);
grid.selectAll("line.h").data(leftTicks).join("line")
  .attr("x1",X0).attr("x2",X1)
  .attr("y1",d=>y(d)).attr("y2",d=>y(d))
  .attr("stroke",d=>d===0?"#8c8c8c":"#c0c0c0")
  .attr("stroke-width",d=>(d%10===0)?2:1);

// series helpers
const line = d3.line().x((d,i)=>x(hours[i])).y(d=>y(d));
const lineP = d3.line().x((d,i)=>x(hours[i])).y(d=>yP(d));
function markers(arr, sc){
  return arr.map((d,i)=>{const px=x(hours[i]), py=sc(d);return `M${px-1.5},${py}H${px+1.5}M${px},${py-1.5}V${py+1.5}`;}).join("");
}
function drawMembers(members, gen, sc){
  const g = svg.append("g");
  members.forEach((m,k)=>{
    g.append("path").attr("d",gen(m)).attr("fill","none").attr("stroke",memberColors[k]).attr("stroke-width",1);
    g.append("path").attr("d",markers(m,sc)).attr("fill","none").attr("stroke",memberColors[k]).attr("stroke-width",1);
  });
}
drawMembers(precipMembers, lineP, yP);
drawMembers(t500Members, line, y);
drawMembers(t850Members, line, y);

function drawMain(arr, gen, color, w){
  svg.append("path").attr("d",gen(arr)).attr("fill","none").attr("stroke",color)
    .attr("stroke-width",w).attr("stroke-linejoin","round").attr("stroke-linecap","round");
}
[[t850Gfs,t850Control,t850Mean,line],[t500Gfs,t500Control,t500Mean,line],[precipGfs,precipControl,precipMean,lineP]].forEach(([g,c,m,gen])=>{
  drawMain(g,gen,"#000",3);
  drawMain(c,gen,"#0000ff",3);
  drawMain(m,gen,"#ff0000",4);
});

// frame
const fr = svg.append("g").attr("shape-rendering","crispEdges").attr("stroke","#000");
fr.append("line").attr("x1",X0).attr("x2",X0).attr("y1",0).attr("y2",YB+0.5).attr("stroke-width",1.5);
fr.append("line").attr("x1",X1+0.5).attr("x2",X1+0.5).attr("y1",0).attr("y2",YB+0.5).attr("stroke-width",1);
fr.append("line").attr("x1",X0).attr("x2",X1+1).attr("y1",YB+0.5).attr("y2",YB+0.5).attr("stroke-width",1);

// thick "now" marker line
const nx = x(nowHour);
const wob = [[0,2],[2,70],[1,200],[0,300],[1,400],[3,500],[4,560],[4,592]];
svg.append("path")
  .attr("d", d3.line()(wob.map(([dx,py])=>[nx+dx,py])) + `M${nx+4},592L${nx+7},586`)
  .attr("fill","none").attr("stroke","#000").attr("stroke-width",4).attr("stroke-linecap","round");

// axes labels
const gL = svg.append("g").attr("transform","translate(17,0)")
  .call(d3.axisRight(y).tickValues(leftTicks).tickSize(0).tickPadding(0).tickFormat(d=>String(d)));
gL.select(".domain").remove();
gL.attr("font-family",MONO).attr("font-size",10);
gL.selectAll("text").attr("fill","#000").attr("dy","0.52em");

const gR = svg.append("g").attr("transform","translate(707,0)")
  .call(d3.axisRight(yP).tickValues(d3.range(0,76,5)).tickSize(0).tickPadding(0).tickFormat(d=>String(d)));
gR.select(".domain").remove();
gR.attr("font-family",MONO).attr("font-size",10);
gR.selectAll("text").attr("fill","#000").attr("dy","0.52em");

const gB = svg.append("g").attr("transform",`translate(0,${YB+1})`)
  .call(d3.axisBottom(x).tickValues(dateHours).tickSize(0).tickFormat((d,i)=>dateLabels[i]));
gB.select(".domain").remove();
gB.attr("font-family",MONO).attr("font-size",10);
gB.selectAll("text").attr("fill","#000").attr("transform","rotate(-90)")
  .attr("text-anchor","end").attr("x",-2).attr("y",10).attr("dy",0);

function txt(s, tx, ty, opt={}){
  return svg.append("text").attr("x",tx).attr("y",ty).text(s)
    .attr("font-family",MONO).attr("font-size",opt.size||10)
    .attr("font-weight",opt.bold?"bold":"normal")
    .attr("fill",opt.fill||"#000000")
    .attr("text-anchor",opt.anchor||"start");
}
txt("(°c)",18,607);
txt("Temp. 850hPa",58,128);
txt("Temp. 500hPa",58,310);
txt("Précipitations",58,535);

// snow risk
function flake(g, cx, cy){
  g.append("circle").attr("cx",cx).attr("cy",cy).attr("r",5.4).attr("fill","#78c0ee");
  [0,60,120].forEach(a=>{
    const r=a*Math.PI/180;
    g.append("line").attr("x1",cx-3.5*Math.cos(r)).attr("y1",cy-3.5*Math.sin(r))
      .attr("x2",cx+3.5*Math.cos(r)).attr("y2",cy+3.5*Math.sin(r))
      .attr("stroke","#e8f6ff").attr("stroke-width",1);
  });
  g.append("circle").attr("cx",cx).attr("cy",cy).attr("r",1.2).attr("fill","#ffffff");
}
const gs = svg.append("g");
snowRisk.forEach((v,i)=>{
  if(v==null) return;
  const px = x(hours[i]);
  gs.append("rect").attr("x",px-5).attr("y",576).attr("width",10).attr("height",4).attr("fill","#c8fcff");
});
snowRisk.forEach((v,i)=>{
  if(v==null) return;
  const px = x(hours[i]);
  flake(gs, px, 585);
  gs.append("text").attr("transform",`translate(${px+3},575) rotate(-90)`).text(v+"%")
    .attr("font-family",MONO).attr("font-size",7.5).attr("font-weight","bold").attr("fill","#0000ff");
});

// legend
svg.append("rect").attr("x",33).attr("y",632).attr("width",30).attr("height",4).attr("fill","#ff0000");
txt("Moyenne des scénarios",73,638);
svg.append("rect").attr("x",223).attr("y",632).attr("width",30).attr("height",4).attr("fill","#0000ff");
txt("Run de contrôle",262,638);
svg.append("rect").attr("x",223).attr("y",643).attr("width",30).attr("height",4).attr("fill","#000");
txt("Run GFS",262,649);
flake(svg.append("g"),58,655);
txt("Risque neige",73,661);
txt("Altitude du modele : 458m",178,662);
txt("20 Perturbations",367,652);
const gw = svg.append("g");
memberNames.forEach((n,k)=>{
  gw.append("rect").attr("x",467+11*k).attr("y",647).attr("width",10).attr("height",6).attr("fill",memberColors[k]);
  gw.append("text").attr("x",472+11*k).attr("y",643).text(n).attr("text-anchor","middle")
    .attr("font-family",MONO).attr("font-size",7.5).attr("font-weight","bold").attr("fill","#000000");
});

// title box
svg.append("rect").attr("x",18.5).attr("y",664.5).attr("width",420).attr("height",32)
  .attr("fill","#fff").attr("stroke","#000").attr("stroke-width",1.5);
txt("Diagramme des ensembles GEFS sur 384h : 36.6N 5E",28,677,{bold:true,size:11.4});
txt("Températures 850hPa et 500hPa (°C) , précipitations (mm)",28,692);
txt("Ensemble GEFS du 29/12/2017 - 18Z",447,673);
txt("Copyright 2017 Meteociel.fr",447,693,{bold:true,size:11.6});

// outer blue border strips
svg.append("rect").attr("x",737).attr("y",0).attr("width",3).attr("height",700).attr("fill","#6f8ff0");
svg.append("rect").attr("x",0).attr("y",697).attr("width",740).attr("height",3).attr("fill","#7f9fef");

// right unit label, drawn last in plain black
svg.append("text").attr("x",708).attr("y",607).text("(mm)")
  .attr("font-family",MONO).attr("font-size",10).attr("fill","black").attr("stroke","none");
</script>
</body></html>
